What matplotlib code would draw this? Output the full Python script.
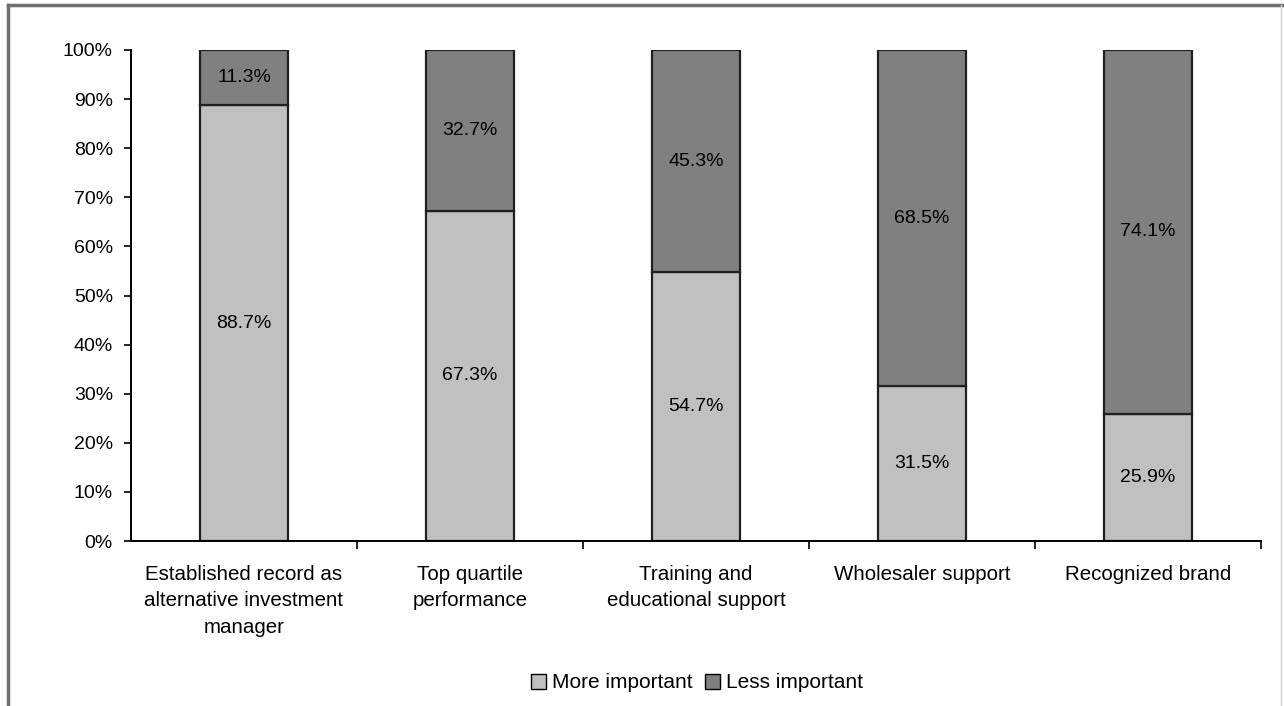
import matplotlib.pyplot as plt
from matplotlib.lines import Line2D
from matplotlib.patches import Patch
from matplotlib.ticker import FuncFormatter, MultipleLocator

plt.rcParams['font.family'] = ['Liberation Sans', 'DejaVu Sans']

categories = ["Established record as\nalternative investment\nmanager",
              "Top quartile\nperformance",
              "Training and\neducational support",
              "Wholesaler support",
              "Recognized brand"]
more_important = [88.7, 67.3, 54.7, 31.5, 25.9]
less_important = [11.3, 32.7, 45.3, 68.5, 74.1]

light = "#c0c0c0"
dark = "#808080"
fs = 14

fig = plt.figure(figsize=(12.84, 7.06), dpi=100)
ax = fig.add_axes([131 / 1284, 1 - 541 / 706, 1130 / 1284, 491 / 706])

x = list(range(len(categories)))
ax.bar(x, more_important, width=0.39, color=light, edgecolor="#202020",
       linewidth=1.6, label="More important")
ax.bar(x, less_important, bottom=more_important, width=0.39, color=dark,
       edgecolor="#202020", linewidth=1.6, label="Less important")

for i, (m, l) in enumerate(zip(more_important, less_important)):
    ax.text(i, m / 2, f"{m:.1f}%", ha="center", va="center", fontsize=fs)
    ax.text(i, m + l / 2, f"{l:.1f}%", ha="center", va="center", fontsize=fs)

ax.set_xlim(-0.5, len(categories) - 0.5)
ax.set_ylim(0, 100)
ax.yaxis.set_major_locator(MultipleLocator(10))
ax.yaxis.set_major_formatter(FuncFormatter(lambda v, _: f"{v:.0f}%"))
ax.tick_params(axis="y", labelsize=fs, direction="out", length=5, width=1.2,
               pad=8)

ax.set_xticks(x)
ax.set_xticklabels(categories, fontsize=14.8, linespacing=1.5)
ax.tick_params(axis="x", length=0, pad=17)
ax.set_xticks([i + 0.5 for i in x], minor=True)
ax.tick_params(axis="x", which="minor", direction="out", length=6, width=1.2)

for side in ["top", "right"]:
    ax.spines[side].set_visible(False)
for side in ["left", "bottom"]:
    ax.spines[side].set_linewidth(1.4)

handles = [Patch(facecolor=light, edgecolor="black", label="More important"),
           Patch(facecolor=dark, edgecolor="black", label="Less important")]
fig.legend(handles=handles, loc="center", bbox_to_anchor=(697 / 1284, 1 - 683 / 706),
           ncol=2, frameon=False, fontsize=15, handlelength=0.7, handleheight=0.7,
           handletextpad=0.3, columnspacing=0.6)

# outer frame of the chart area
fig.add_artist(Line2D([8 / 1284, 1], [1 - 5 / 706] * 2, color="#707070", lw=2.5))
fig.add_artist(Line2D([8 / 1284] * 2, [0, 1 - 5 / 706], color="#707070", lw=2.5))
fig.add_artist(Line2D([1281 / 1284] * 2, [0, 1 - 5 / 706], color="#d0d0d0", lw=1))

fig.savefig("out.png", dpi=100)
